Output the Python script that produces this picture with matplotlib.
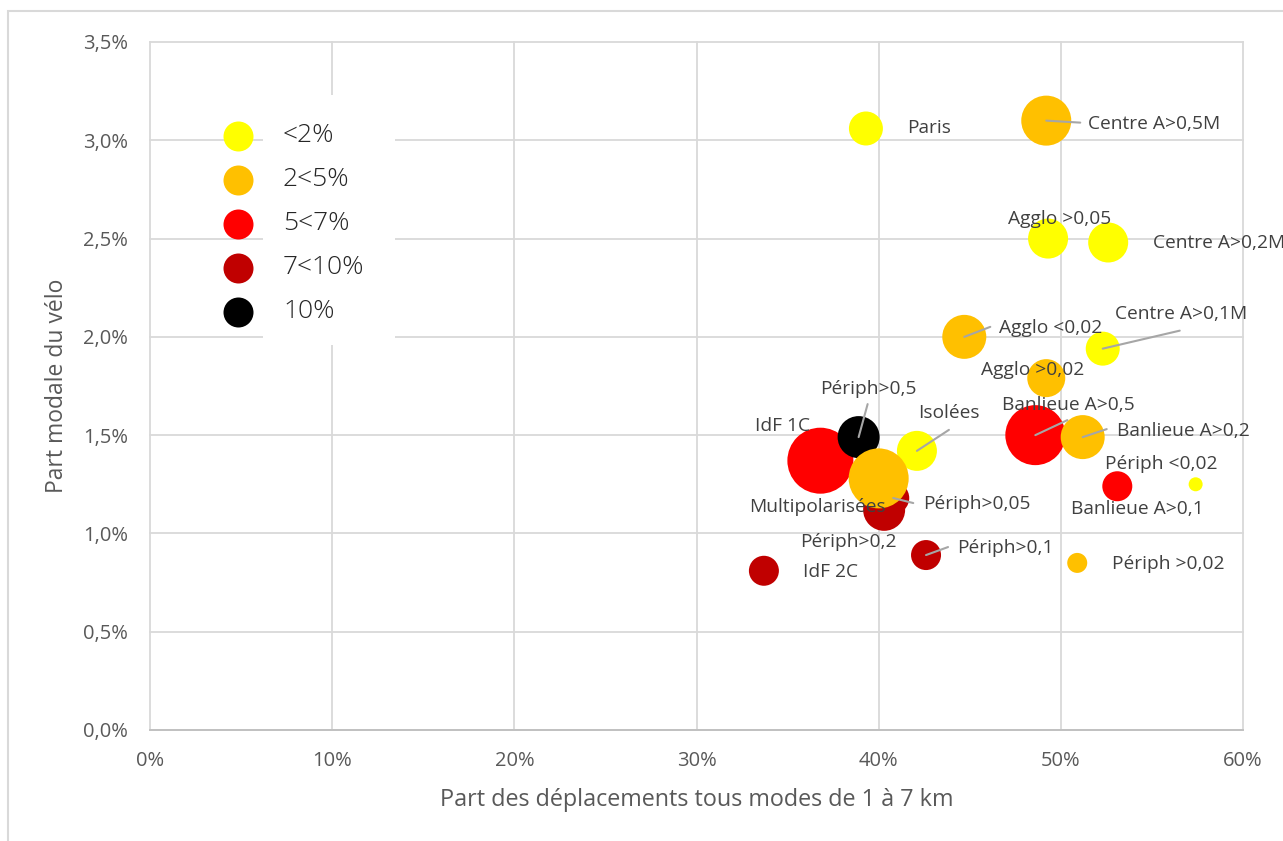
import matplotlib
matplotlib.use("Agg")
import matplotlib.pyplot as plt
from matplotlib.patches import Rectangle
from matplotlib.ticker import FuncFormatter, MultipleLocator

plt.rcParams['font.family'] = ['Open Sans', 'DejaVu Sans']

# ---------------- data ----------------
names = ["Paris", "Centre A>0,5M", "Agglo >0,05", "Centre A>0,2M", "Agglo <0,02",
         "Centre A>0,1M", "Agglo >0,02", "Banlieue A>0,5", "Banlieue A>0,2",
         "Banlieue A>0,1", "Périph <0,02", "Périph >0,02", "Périph>0,1", "IdF 2C",
         "Périph>0,2", "Multipolarisées", "Périph>0,05", "Isolées", "IdF 1C", "Périph>0,5"]
share_1_7km = [39.3, 49.2, 49.3, 52.6, 44.7, 52.3, 49.2, 48.6, 51.2, 53.1,
               57.4, 50.9, 42.6, 33.7, 40.3, 40.0, 40.8, 42.1, 36.8, 38.9]
bike_share = [3.06, 3.10, 2.50, 2.48, 2.00, 1.94, 1.79, 1.50, 1.49, 1.24,
              1.25, 0.85, 0.89, 0.81, 1.12, 1.28, 1.18, 1.42, 1.37, 1.49]
category = [0, 1, 0, 0, 1, 0, 1, 2, 1, 2, 0, 1, 3, 3, 3, 1, 3, 0, 2, 4]
bubble_radius = [17, 25, 20, 20, 22, 17, 19, 30, 22, 15, 7, 10, 15, 15, 21, 30, 16, 20, 33, 21]

legend_labels = ["<2%", "2<5%", "5<7%", "7<10%", "10%"]
cat_colors = ["#FFFF00", "#FFC000", "#FF0000", "#C00000", "#000000"]
cat_zorder = [5, 6, 3, 4, 4]

x_ticks = [0, 10, 20, 30, 40, 50, 60]
y_ticks = [0.0, 0.5, 1.0, 1.5, 2.0, 2.5, 3.0, 3.5]

# label placement: (dx, dy) in pixels from bubble centre, horizontal alignment
label_pos = [(41, 0, 'left'), (42, -3, 'left'), (12, 20, 'center'), (45, 0, 'left'),
             (35, 9, 'left'), (12, 35, 'left'), (-14, 8, 'center'), (33, 30, 'center'),
             (34, 6, 'left'), (20, -23, 'center'), (-34, 20, 'center'), (35, -1, 'left'),
             (31, 7, 'left'), (39, -1, 'left'), (-36, -32, 'center'), (-61, -29, 'center'),
             (30, -6, 'left'), (32, 38, 'center'), (-38, 35, 'center'), (10, 48, 'center')]
# leader line end offsets in pixels (None = no leader line)
leaders = [None, (34, -2), None, None, (26, 10), (77, 18), None, (32, 15), (24, 8),
           None, None, None, (22, 8), None, None, None, (20, -5), (32, 21), None, (9, 33)]

# ---------------- figure ----------------
W, H, DPI = 1283, 841, 100
fig = plt.figure(figsize=(W / DPI, H / DPI), dpi=DPI)
ax_l, ax_r, ax_t, ax_b = 150, 1243, 42, 730
ax = fig.add_axes([ax_l / W, 1 - ax_b / H, (ax_r - ax_l) / W, (ax_b - ax_t) / H])

grid_c = "#D9D9D9"
text_c = "#595959"

ax.set_xlim(0, 60)
ax.set_ylim(0, 3.5)
ax.set_xticks(x_ticks)
ax.set_yticks(y_ticks)
ax.xaxis.set_major_formatter(FuncFormatter(lambda v, p: f"{v:.0f}%"))
ax.yaxis.set_major_formatter(FuncFormatter(lambda v, p: f"{v:.1f}%".replace('.', ',')))
ax.tick_params(length=0, labelsize=14.5, colors=text_c)
ax.tick_params(axis='y', pad=16)
ax.tick_params(axis='x', pad=15)
ax.set_axisbelow(True)
ax.grid(True, color=grid_c, lw=1.3)
for g in ax.get_xgridlines() + ax.get_ygridlines():
    g.set_clip_on(False)
for s in ['top', 'right', 'left']:
    ax.spines[s].set_visible(False)
ax.spines['bottom'].set_color("#BFBFBF")
ax.spines['bottom'].set_linewidth(1.3)

ax.set_xlabel("Part des déplacements tous modes de 1 à 7 km", fontsize=16.8, color=text_c)
ax.set_ylabel("Part modale du vélo", fontsize=16.5, color=text_c)
ax.xaxis.set_label_coords(0.5, (ax_b - 800) / (ax_b - ax_t))
ax.xaxis.label.set_va('center')
ax.yaxis.set_label_coords((57 - ax_l) / (ax_r - ax_l), 0.5)
ax.yaxis.label.set_va('center')

px2pt = 72.0 / DPI
for i in range(len(names)):
    c = category[i]
    d = 2 * bubble_radius[i] * px2pt
    ax.scatter([share_1_7km[i]], [bike_share[i]], s=d * d, color=cat_colors[c],
               edgecolors='none', zorder=cat_zorder[c])

for i in range(len(names)):
    if leaders[i] is not None:
        ax.annotate("", xy=(share_1_7km[i], bike_share[i]), xytext=leaders[i],
                    textcoords='offset pixels',
                    arrowprops=dict(arrowstyle='-', color="#A6A6A6", lw=1.5,
                                    shrinkA=0, shrinkB=0), zorder=8)
    dx, dy, ha = label_pos[i]
    ax.annotate(names[i], xy=(share_1_7km[i], bike_share[i]), xytext=(dx, dy),
                textcoords='offset pixels', ha=ha, va='center', fontsize=13.8,
                color="#404040", zorder=9, annotation_clip=False)

# legend (manual, Excel-like)
fig.patches.append(Rectangle((263 / W, 1 - 345 / H), (395 - 263) / W, (345 - 95) / H,
                             transform=fig.transFigure, facecolor='white',
                             edgecolor='none', zorder=1))
for k, (lab, col) in enumerate(zip(legend_labels, cat_colors)):
    yy = 136 + 44 * k
    fig.lines.append(plt.Line2D([238 / W], [1 - yy / H], marker='o', markersize=30 * px2pt,
                                color=col, markeredgecolor='none', linestyle='none',
                                transform=fig.transFigure, zorder=10))
    fig.text(283 / W, 1 - yy / H, lab, fontsize=19, color="#262626", va='center',
             ha='left', fontweight='light', zorder=10)

# chart area border
fig.patches.append(Rectangle((8 / W, -0.05), 1.1, 1 - 11 / H + 0.05,
                             transform=fig.transFigure, facecolor='none',
                             edgecolor=grid_c, lw=1.5, zorder=0))

fig.savefig("out.png", dpi=DPI)
